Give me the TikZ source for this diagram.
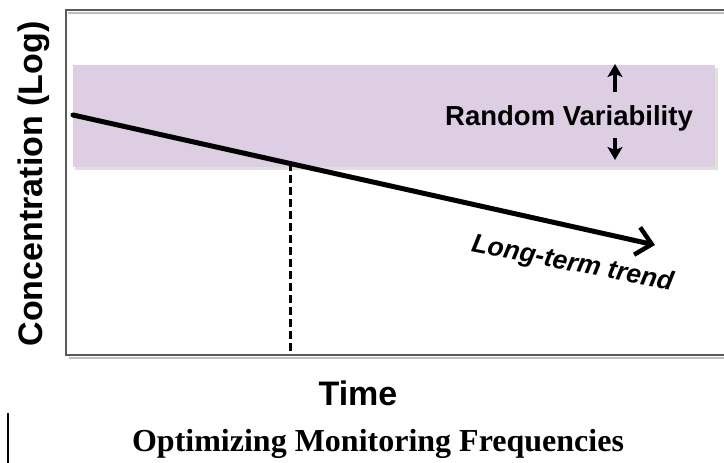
\documentclass[tikz,border=0pt]{standalone}
\usepackage{fontspec}
\setmainfont{Liberation Serif}
\setsansfont{Liberation Sans}
\usetikzlibrary{arrows.meta, calc}
\definecolor{bandlilac}{RGB}{221,206,228}
\definecolor{framegray}{RGB}{90,90,90}

\begin{document}
\begin{tikzpicture}[x=1pt, y=-1pt,
  axislabel/.style={font=\sffamily\bfseries\fontsize{34}{34}\selectfont, inner sep=0pt},
  bandlabel/.style={font=\sffamily\bfseries\fontsize{27.5}{27.5}\selectfont, inner sep=0pt},
  trendlabel/.style={font=\sffamily\bfseries\itshape\fontsize{26.5}{26.5}\selectfont, inner sep=0pt},
  caption/.style={font=\rmfamily\bfseries\fontsize{32}{32}\selectfont, inner sep=0pt},
  trend/.style={-{Straight Barb[length=15pt, width=28pt, line width=4.5pt]}, line width=5pt, line cap=round},
  spread/.style={-{Stealth[length=13pt, width=15pt, inset=3pt]}, line width=3.2pt},
]
  \useasboundingbox (0,0) rectangle (724,463);

  % plot frame, open on the right
  \draw[black!25, line width=2pt] (68,13) -- (740,13);
  \draw[black!25, line width=2pt] (69,358) -- (740,358);
  \draw[framegray, line width=2pt] (740,10) -- (66,10) -- (66,355) -- (740,355);

  % band of random variability
  \fill[black!12] (75,68) rectangle (718,170);
  \fill[bandlilac] (73,65) rectangle (715,167);

  % long-term trend and the time it leaves the band
  \coordinate (trendstart) at (73,115);
  \coordinate (trendend) at (655,245);
  \coordinate (cross) at ($(trendstart)!0.373!(trendend)$);
  \coordinate (axisfoot) at (cross |- 0,354);
  \draw[line width=3pt, dash pattern=on 8pt off 4pt] (cross) -- (axisfoot);
  \draw[trend] (trendstart) -- (trendend);

  \node[bandlabel, anchor=base] (variability) at (569,125) {Random Variability};
  \coordinate (uptop) at (615,64);
  \coordinate (upfoot) at (615,92);
  \coordinate (downtop) at (615,138);
  \coordinate (downfoot) at (615,160);
  \draw[spread] (upfoot) -- (uptop);
  \draw[spread] (downtop) -- (downfoot);

  \node[trendlabel, anchor=base, rotate=-11] (trendtext) at (571,271) {Long-term trend};

  % axis titles
  \node[axislabel, anchor=base, rotate=90] (ytitle) at (42,184) {Concentration (Log)};
  \node[axislabel, anchor=base] (xtitle) at (358,405) {Time};

  \node[caption, anchor=base] (title) at (378,451) {Optimizing Monitoring Frequencies};
  \draw[line width=2pt] (8,413) -- (8,463);
\end{tikzpicture}
\end{document}
